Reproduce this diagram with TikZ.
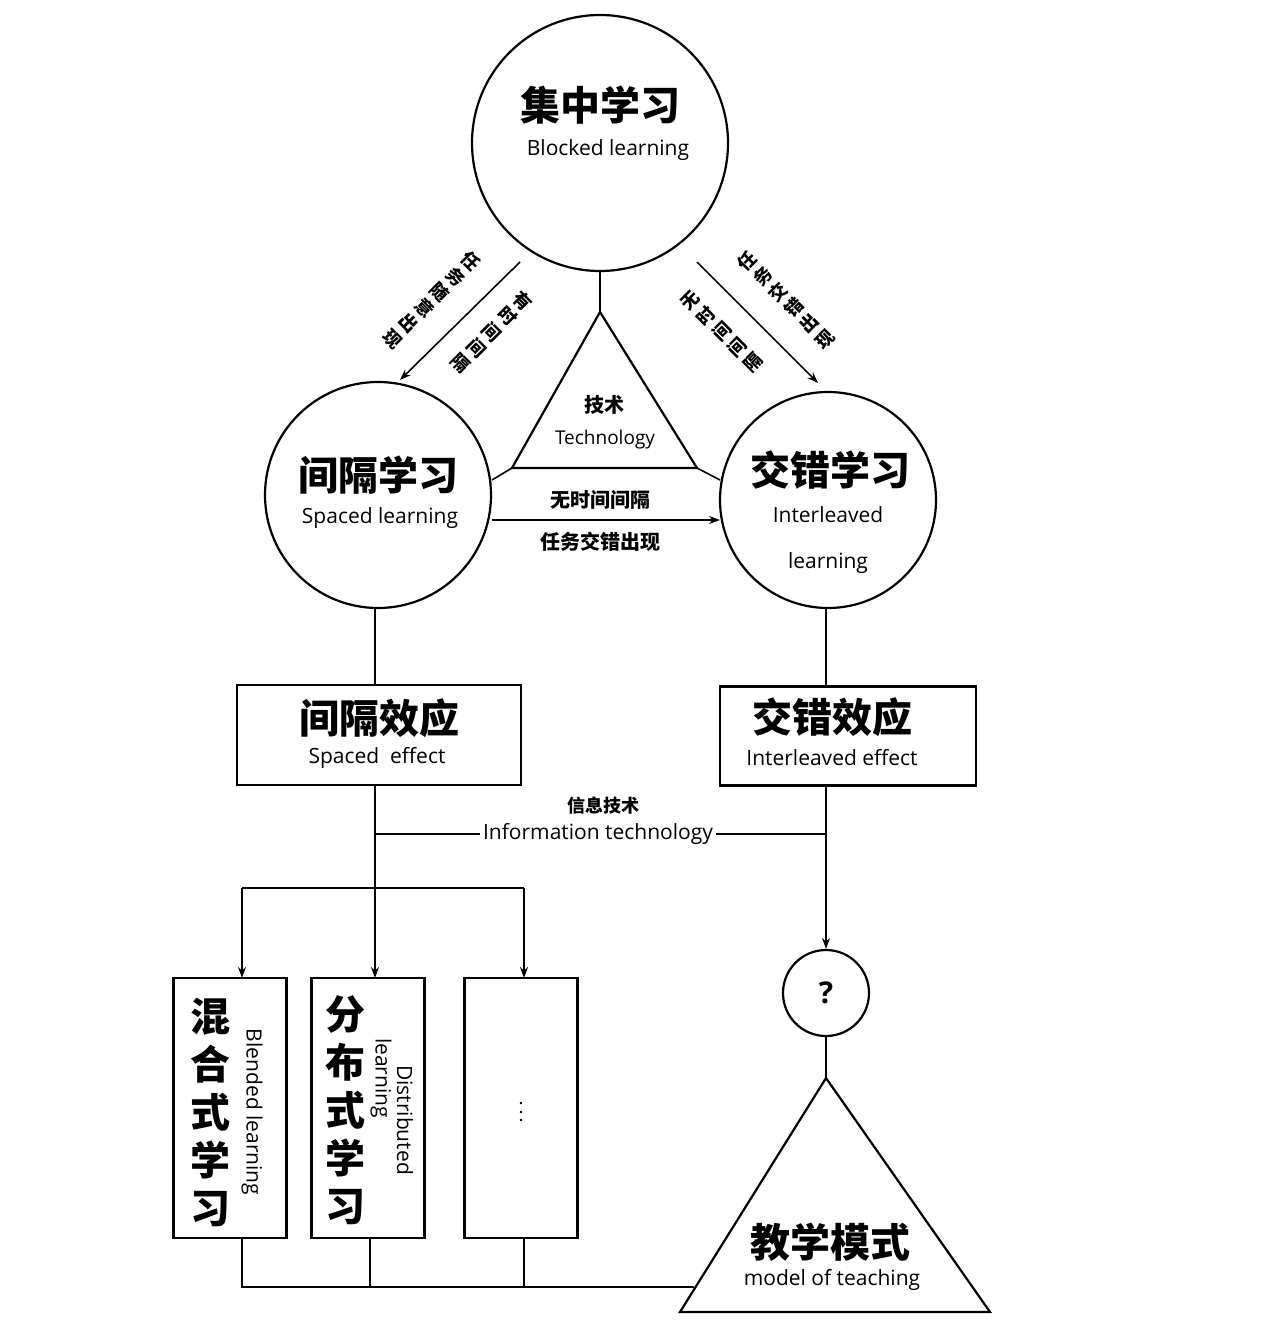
\documentclass[tikz,border=0pt]{standalone}
\usepackage{fontspec}
\setmainfont{Open Sans}
\newfontfamily\cjk{Noto Sans CJK SC}
\usetikzlibrary{arrows.meta}
\begin{document}
\begin{tikzpicture}[x=1pt,y=-1pt,
  ln/.style={line width=2.2pt},
  thin/.style={line width=1.6pt},
  arr/.style={thin,-{Stealth[length=11pt,width=8pt]}},
  zh/.style={font=\cjk\bfseries\fontsize{40}{44}\selectfont},
  en/.style={font=\fontsize{21}{24}\selectfont},
  sm/.style={font=\cjk\bfseries\fontsize{20}{24}\selectfont,align=center},
  col/.style={font=\cjk\bfseries\fontsize{18}{22}\selectfont,align=center,inner sep=1pt}]
\useasboundingbox (0,0) rectangle (1262,1332);
% circles
\node[ln,draw,circle,minimum size=256pt] (top) at (600,143) {};
\node[zh] at (600,105) {集中学习};
\node[en] at (608,150) {Blocked learning};
\node[ln,draw,circle,minimum size=226pt] (sp) at (378,495) {};
\node[zh] at (378,475) {间隔学习};
\node[en] at (380,518) {Spaced learning};
\node[ln,draw,circle,minimum size=216pt] (il) at (828,500) {};
\node[zh] at (830,470) {交错学习};
\node[en] at (828,515) {Interleaved};
\node[en] at (828,563) {learning};
% technology triangle
\coordinate (ta) at (600,312); \coordinate (tl) at (512,468); \coordinate (tr) at (697,468);
\draw[ln] (ta) -- (tl) -- (tr) -- cycle;
\node[sm] at (604,405) {技术};
\node[en,font=\fontsize{19}{22}\selectfont] at (605,440) {Technology};
\draw[thin] (top.south) -- (ta);
\draw[thin] (tl) -- (492,480);
\draw[thin] (tr) -- (720,480);
% diagonal arrows
\coordinate (l1) at (520,262); \coordinate (l2) at (400,380);
\coordinate (r1) at (697,262); \coordinate (r2) at (818,383);
\draw[arr] (l1) -- (l2);
\draw[arr] (r1) -- (r2);
\node[col,rotate=-45] at (432,300) {任\\务\\随\\意\\出\\现};
\node[col,rotate=-45] at (492,332) {有\\时\\间\\间\\隔};
\node[col,rotate=45] at (786,300) {任\\务\\交\\错\\出\\现};
\node[col,rotate=45] at (722,332) {无\\时\\间\\间\\隔};
% horizontal arrow
\coordinate (h1) at (492,520); \coordinate (h2) at (720,520);
\draw[arr] (h1) -- (h2);
\node[sm] at (600,500) {无时间间隔};
\node[sm] at (600,542) {任务交错出现};
% effect boxes
\node[ln,draw,minimum width=284pt,minimum height=100pt] (se) at (379,735) {};
\node[zh] at (379,718) {间隔效应};
\node[en] at (377,758) {Spaced\ \ effect};
\node[ln,draw,minimum width=256pt,minimum height=99pt] (ie) at (848,736) {};
\node[zh] at (832,717) {交错效应};
\node[en] at (832,758) {Interleaved effect};
\draw[thin] (375,608) -- (375,685);
\draw[thin] (826,608) -- (826,686);
% information technology
\node[sm,font=\cjk\bfseries\fontsize{18}{22}\selectfont] at (603,806) {信息技术};
\node[en] (it) at (598,834) {Information technology};
\draw[thin] (375,834) -- (it.west);
\draw[thin] (it.east) -- (826,834);
% ? circle
\node[ln,draw,circle,minimum size=86pt,font=\bfseries\fontsize{30}{32}\selectfont] (q) at (826,993) {?};
\draw[arr] (826,785) -- (q.north);
% bottom boxes
\node[ln,draw,minimum width=113pt,minimum height=260pt] (b1) at (230,1108) {};
\node[ln,draw,minimum width=113pt,minimum height=260pt] (b2) at (368,1108) {};
\node[ln,draw,minimum width=113pt,minimum height=260pt] (b3) at (521,1108) {};
\node[zh,align=center,font=\cjk\bfseries\fontsize{40}{48}\selectfont] at (210,1112) {混\\合\\式\\学\\习};
\node[en,rotate=-90] at (252,1112) {Blended learning};
\node[zh,align=center,font=\cjk\bfseries\fontsize{40}{48}\selectfont] at (345,1110) {分\\布\\式\\学\\习};
\node[en,rotate=-90] at (405,1120) {Distributed};
\node[en,rotate=-90] at (381,1078) {learning};
\node[en,rotate=-90,font=\bfseries\fontsize{14}{16}\selectfont] at (521,1112) {. . .};
\draw[arr] (375,785) -- (375,978);
\draw[thin] (242,888) -- (524,888);
\draw[arr] (242,888) -- (242,978);
\draw[arr] (524,888) -- (524,978);
% teaching triangle
\coordinate (ba) at (826,1078); \coordinate (bl) at (680,1312); \coordinate (br) at (990,1312);
\draw[ln] (ba) -- (bl) -- (br) -- cycle;
\draw[thin] (q.south) -- (ba);
\node[zh] at (830,1242) {教学模式};
\node[en] at (832,1280) {model of teaching};
\draw[thin] (242,1238) -- (242,1287) -- (694,1287);
\draw[thin] (370,1238) -- (370,1287);
\draw[thin] (524,1238) -- (524,1287);
\end{tikzpicture}
\end{document}
